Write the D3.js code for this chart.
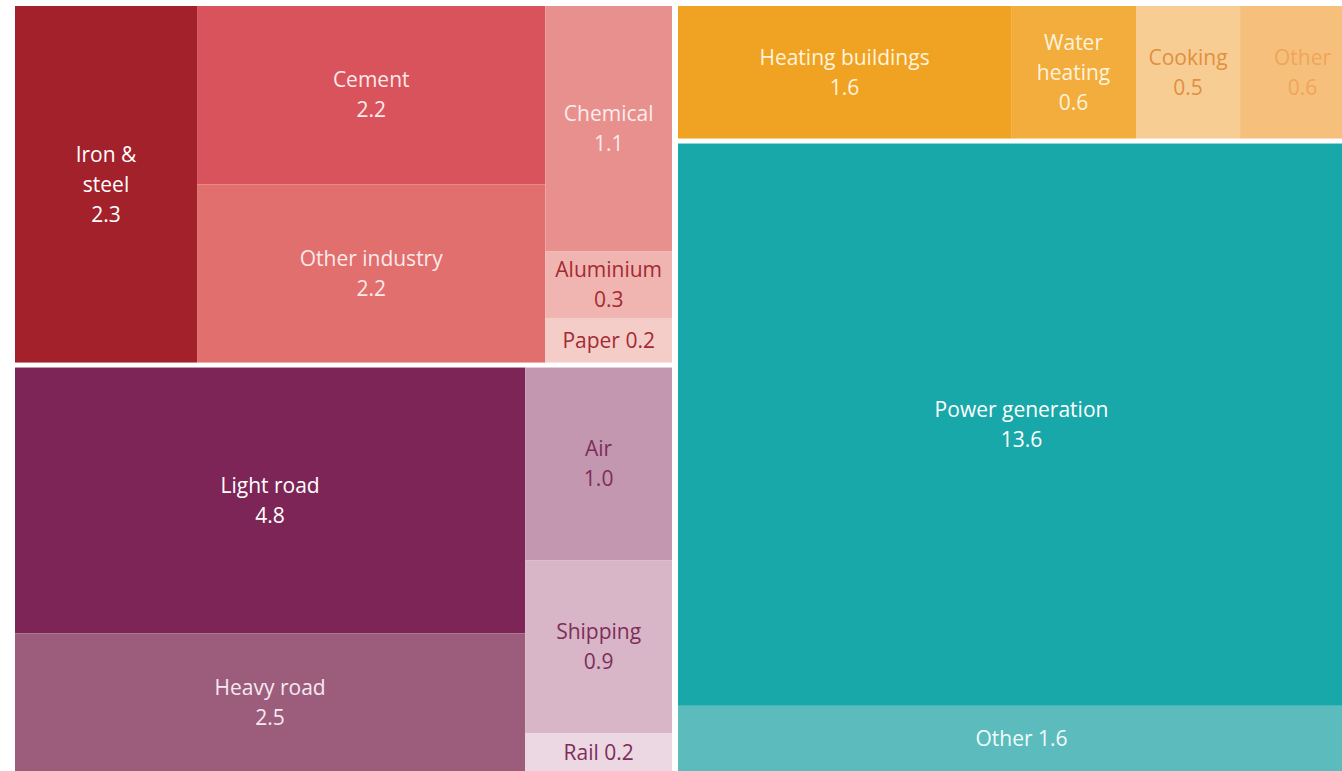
<!DOCTYPE html>
<html>
<head>
<meta charset="utf-8">
<script src="https://cdn.jsdelivr.net/npm/d3@7"></script>
<style>
  html, body { margin: 0; padding: 0; background: #ffffff; overflow: hidden; }
  svg { display: block; }
  text { font-family: "Open Sans", "Noto Sans", sans-serif; }
</style>
</head>
<body>
<svg id="chart" width="1342" height="771"></svg>
<script>
// Emissions by sector (Gt CO2), split into sub-sectors.
// "stacks" groups sub-sectors that share one column inside their sector block.
const industryNames  = ["Iron &\nsteel", "Cement", "Other industry", "Chemical", "Aluminium", "Paper"];
const industryValues = [2.3, 2.2, 2.2, 1.1, 0.3, 0.2];
const industryStacks = [0, 1, 1, 2, 2, 2];

const transportNames  = ["Light road", "Heavy road", "Air", "Shipping", "Rail"];
const transportValues = [4.8, 2.5, 1.0, 0.9, 0.2];
const transportStacks = [0, 0, 1, 1, 1];

const buildingsNames  = ["Heating buildings", "Water\nheating", "Cooking", "Other"];
const buildingsValues = [1.6, 0.6, 0.5, 0.6];
const buildingsStacks = [0, 1, 2, 3];

const powerNames  = ["Power generation", "Other"];
const powerValues = [13.6, 1.6];
const powerStacks = [0, 0];

// Fill and label colours per sub-sector
const industryFills  = ["#a2212b", "#d9535c", "#e06f6e", "#e8908d", "#f0b5b0", "#f5cdc8"];
const industryInk    = ["#ffffff", "#fde9e9", "#fde9e9", "#fdeceb", "#a32a33", "#a32a33"];
const transportFills = ["#7d2556", "#9c5d7d", "#c497b0", "#d8b6c8", "#ebd8e2"];
const transportInk   = ["#ffffff", "#f6e8f0", "#7e2d5a", "#7e2d5a", "#7e2d5a"];
const buildingsFills = ["#f0a322", "#f2ad3c", "#f8cd94", "#f6c07c"];
const buildingsInk   = ["#fff3dc", "#fff3dc", "#e0903e", "#f0a55a"];
const powerFills     = ["#18a8a9", "#5cbcbd"];
const powerInk       = ["#ffffff", "#f0fbfb"];

// Sector blocks arranged in two columns: [Industry, Transport] | [Buildings, Power]
const columns = [["industry", "transport"], ["buildings", "power"]];

const sectorData = {
  industry:  { names: industryNames,  values: industryValues,  stacks: industryStacks,  fills: industryFills,  ink: industryInk },
  transport: { names: transportNames, values: transportValues, stacks: transportStacks, fills: transportFills, ink: transportInk },
  buildings: { names: buildingsNames, values: buildingsValues, stacks: buildingsStacks, fills: buildingsFills, ink: buildingsInk },
  power:     { names: powerNames,     values: powerValues,     stacks: powerStacks,     fills: powerFills,     ink: powerInk }
};

function buildSector(key) {
  const s = sectorData[key];
  const stackCount = d3.max(s.stacks) + 1;
  const stacks = d3.range(stackCount).map(k => ({ name: key + "-" + k, children: [] }));
  s.names.forEach((n, i) => {
    stacks[s.stacks[i]].children.push({
      name: n, value: s.values[i], fill: s.fills[i], ink: s.ink[i]
    });
  });
  return { name: key, children: stacks };
}

const tree = {
  name: "root",
  children: columns.map((col, ci) => ({ name: "col" + ci, children: col.map(buildSector) }))
};

const root = d3.hierarchy(tree)
  .sum(d => d.value || 0);

// Plot area (the block runs slightly past the right/bottom edge of the view)
const areaLeft = 15, areaTop = 6, areaRight = 1365, areaBottom = 772;

d3.treemap()
  .size([areaRight - areaLeft, areaBottom - areaTop])
  .tile((node, x0, y0, x1, y1) =>
    (node.depth % 2 === 0 ? d3.treemapDice : d3.treemapSlice)(node, x0, y0, x1, y1))
  .paddingInner(node => node.depth === 0 ? 6 : node.depth === 1 ? 5 : 0)
  (root);

const svg = d3.select("#chart");
const g = svg.append("g").attr("transform", `translate(${areaLeft},${areaTop})`);

const leaves = g.selectAll("g.cell")
  .data(root.leaves())
  .join("g")
  .attr("class", "cell");

leaves.append("rect")
  .attr("x", d => d.x0)
  .attr("y", d => d.y0)
  .attr("width", d => Math.max(0, d.x1 - d.x0))
  .attr("height", d => Math.max(0, d.y1 - d.y0))
  .attr("fill", d => d.data.fill);

const lineH = 30;
const fontSize = 21;

leaves.each(function (d) {
  const w = d.x1 - d.x0;
  const h = d.y1 - d.y0;
  const valueText = d3.format(".1f")(d.data.value);
  const cx = (d.x0 + d.x1) / 2;
  const cy = (d.y0 + d.y1) / 2;

  const text = d3.select(this).append("text")
    .attr("text-anchor", "middle")
    .attr("font-size", fontSize)
    .attr("fill", d.data.ink);

  // Short cells get a single "name value" line when it fits across the cell
  let lines = [d.data.name.replace("\n", " ") + " " + valueText];
  const probe = text.append("tspan").text(lines[0]);
  const singleWidth = probe.node().getComputedTextLength();
  probe.remove();
  if (!(h < 72 && singleWidth < w - 8)) {
    lines = d.data.name.split("\n").concat([valueText]);
  }

  const startY = cy - (lines.length - 1) * lineH / 2;
  text.selectAll("tspan")
    .data(lines)
    .join("tspan")
    .attr("x", cx)
    .attr("y", (l, i) => startY + i * lineH)
    .attr("dy", "0.35em")
    .text(l => l);
});
</script>
</body>
</html>
